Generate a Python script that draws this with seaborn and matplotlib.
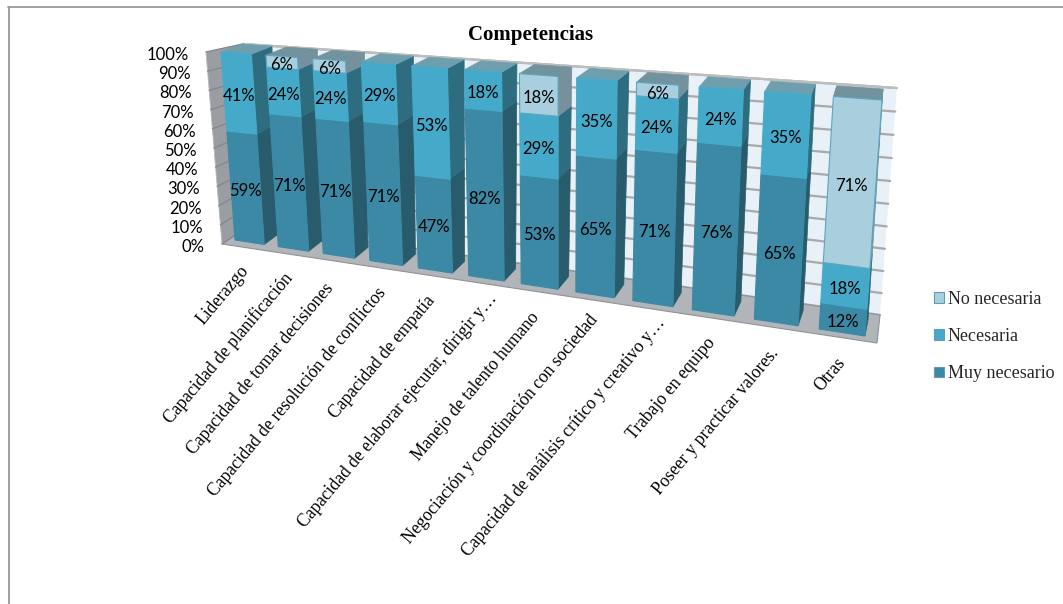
import numpy as np
import pandas as pd
import matplotlib
matplotlib.use("Agg")
import matplotlib.pyplot as plt
import seaborn as sns
from matplotlib.lines import Line2D
from matplotlib.patches import Patch, Polygon
from matplotlib.transforms import Affine2D, Transform

W, H = 1063, 604

categories = [
    "Liderazgo",
    "Capacidad de planificación",
    "Capacidad de tomar decisiones",
    "Capacidad de resolución de conflictos",
    "Capacidad de empatía",
    "Capacidad de elaborar ejecutar, dirigir y…",
    "Manejo de talento humano",
    "Negociación y coordinación con sociedad",
    "Capacidad de análisis crítico y creativo y…",
    "Trabajo en equipo",
    "Poseer y practicar valores.",
    "Otras",
]
muy_necesario = [59, 71, 71, 71, 47, 82, 53, 65, 71, 76, 65, 12]
necesaria = [41, 24, 24, 29, 53, 18, 29, 35, 24, 24, 35, 18]
no_necesaria = [0, 6, 6, 0, 0, 0, 18, 0, 6, 0, 0, 71]
y_ticks = [0, 10, 20, 30, 40, 50, 60, 70, 80, 90, 100]

# front, side and top colour of each series
series = [
    ("Muy necesario", muy_necesario, "#3b89a5", "#285b6b", "#6f9fae"),
    ("Necesaria", necesaria, "#45aac9", "#2e6c80", "#6f9fae"),
    ("No necesaria", no_necesaria, "#a9cfdf", "#76909c", "#72929e"),
]

# upper right end of every rotated category label, in pixels
label_ends = [(248, 265), (292, 272), (333, 283), (385, 287), (435, 295), (497, 293),
              (539, 312), (597, 315), (665, 318), (715, 338), (778, 348), (845, 357)]


def homography(bl, tl, br, tr):
    # maps the unit square (s, v) on four picture corners
    src = [(0, 0), (0, 1), (1, 0), (1, 1)]
    A, b = [], []
    for (s, v), (x, y) in zip(src, [bl, tl, br, tr]):
        A.append([s, v, 1, 0, 0, 0, -s * x, -v * x])
        A.append([0, 0, 0, s, v, 1, -s * y, -v * y])
        b += [x, y]
    return np.append(np.linalg.solve(np.array(A, float), np.array(b, float)), 1).reshape(3, 3)


def apply_h(m, s, v):
    p = m @ np.array([s, v, 1.0])
    return p[:2] / p[2]


HALF = 0.34
front_h = homography((235, 240), (221, 52), (865, 336), (882, 100))
back_h = homography((249, 230), (242, 44), (868, 320), (883, 89))
wall_h = homography((250, 225), (243, 44), (880, 315), (897, 88))
floor_h = homography((222, 244), (250, 225), (877, 343), (880, 315))
left_corners = [(222, 244), (206, 52), (243, 44), (250, 225)]


def left_pt(s, v):
    # the side wall is short enough to interpolate straight between its edges
    near = np.array(left_corners[0]) * (1 - v) + np.array(left_corners[1]) * v
    far = np.array(left_corners[3]) * (1 - v) + np.array(left_corners[2]) * v
    return near * (1 - s) + far * s


def to_s(u):
    return (u + HALF) / (len(categories) - 1 + 2 * HALF)


class Perspective(Transform):
    input_dims = output_dims = 2

    def __init__(self, m):
        super().__init__()
        self.m = m

    def transform_non_affine(self, values):
        values = np.asarray(values, float)
        pts = np.column_stack([to_s(values[:, 0]), values[:, 1], np.ones(len(values))]) @ self.m.T
        return pts[:, :2] / pts[:, 2:]


sns.set_theme(style="white")
fig = plt.figure(figsize=(W / 100, H / 100), dpi=100)
ax = fig.add_axes([0, 0, 1, 1])
ax.axis("off")
px = Affine2D().scale(1 / W, -1 / H).translate(0, 1) + fig.transFigure

# outer frame of the chart
frame = "#999999"
fig.add_artist(Line2D([8.5 / W, 8.5 / W], [0, 1 - 7 / H], color=frame, lw=1.3))
fig.add_artist(Line2D([8 / W, 1], [1 - 7 / H, 1 - 7 / H], color=frame, lw=1.3))

# walls and floor
wall_pts = [apply_h(wall_h, s, v) for s, v in [(0, 0), (0, 1), (1, 1), (1, 0)]]
ax.add_patch(Polygon(wall_pts, transform=px, fc="#e9f1f8", ec="none", zorder=1))
ax.plot([wall_pts[1][0], wall_pts[2][0]], [wall_pts[1][1], wall_pts[2][1]], color="#bdbdbd", lw=1.6,
        transform=px, zorder=1.6)
ax.add_patch(Polygon(left_corners, transform=px, fc="#9a9ea3", ec="#b5b8bb", lw=0.6, zorder=2))
ax.add_patch(Polygon([apply_h(floor_h, s, v) for s, v in [(0, 0), (0, 1), (1, 1), (1, 0)]],
                     transform=px, fc="#b1b5b9", ec="#8f9296", lw=0.8, zorder=2))
for t in y_ticks:
    v = t / 100
    a, b = apply_h(wall_h, 0, v), apply_h(wall_h, 1, v)
    ax.plot([a[0], b[0]], [a[1], b[1]], color="#a9a9a9", lw=1.6, transform=px, zorder=1.5)
    a, b = left_pt(0, v), left_pt(1, v)
    ax.plot([a[0], b[0]], [a[1], b[1]], color="#85888c", lw=1, transform=px, zorder=2.5)
    ax.text(a[0] - 17, a[1] + 3, f"{t}%", transform=px, ha="right", va="center",
            fontsize=12, family="Lato", color="black", zorder=50)

# stacked bars, normalised to 100 % like the original chart
df = pd.DataFrame({"cat": categories, "a": muy_necesario, "b": necesaria, "c": no_necesaria})
total = df[["a", "b", "c"]].sum(axis=1).to_numpy(float)
bottom = np.zeros(len(categories))
persp = Perspective(front_h) + px
for key, (name, values, c_front, c_side, c_top) in zip("abc", series):
    n_before = len(ax.patches)
    share = df[key].to_numpy(float) / total
    sns.barplot(data=pd.DataFrame({"cat": categories, "share": share}), x="cat", y="share",
                order=categories, bottom=bottom, color=c_front, saturation=1,
                width=2 * HALF, errorbar=None, ax=ax)
    bars = ax.patches[n_before:]
    for i, bar in enumerate(bars):
        if values[i] == 0:
            bar.set_visible(False)
            continue
        x0, x1 = to_s(bar.get_x()), to_s(bar.get_x() + bar.get_width())
        y0, y1 = bar.get_y(), bar.get_y() + bar.get_height()
        bar.set_transform(persp)
        bar.set_clip_on(False)
        bar.set_facecolor(c_front)
        bar.set_edgecolor(c_front if name != "No necesaria" else "#5aa6bf")
        bar.set_linewidth(0.8)
        bar.set_zorder(10 + i + 0.5)
        side = [apply_h(front_h, x1, y0), apply_h(front_h, x1, y1),
                apply_h(back_h, x1, y1), apply_h(back_h, x1, y0)]
        ax.add_patch(Polygon(side, transform=px, fc=c_side, ec=c_side, lw=0.5, zorder=10 + i))
        if y1 > 0.999:
            top = [apply_h(front_h, x0, y1), apply_h(front_h, x1, y1),
                   apply_h(back_h, x1, y1), apply_h(back_h, x0, y1)]
            ax.add_patch(Polygon(top, transform=px, fc=c_top, ec=c_top, lw=0.5, zorder=10 + i))
        pos = apply_h(front_h, to_s(i), (y0 + y1) / 2)
        ax.text(pos[0], pos[1] + 3, f"{values[i]}%", transform=px, ha="center", va="center",
                fontsize=12, family="Lato", color="black", zorder=60)
    bottom = bottom + share

ax.set_xlabel("")
ax.set_ylabel("")

for name, end in zip(categories, label_ends):
    ax.text(end[0] - 9, end[1] - 3, name, transform=px, rotation=50, rotation_mode="anchor",
            ha="right", va="top", fontsize=12.7, family="Liberation Serif", color="black")

ax.text(531, 35, "Competencias", transform=px, ha="center", va="center", fontsize=15,
        family="Liberation Serif", fontweight="bold", color="black")

handles = [Patch(fc=s[2], ec="#5f9db3", lw=0.8, label=s[0]) for s in reversed(series)]
ax.legend(handles=handles, loc="upper left", bbox_to_anchor=(934 / W, 1 - 291 / H), frameon=False,
          borderpad=0, borderaxespad=0, handlelength=0.55, handleheight=0.55, handletextpad=0.22,
          labelspacing=1.12, prop={"family": "Liberation Serif", "size": 13})

fig.savefig("out.png", dpi=100)
